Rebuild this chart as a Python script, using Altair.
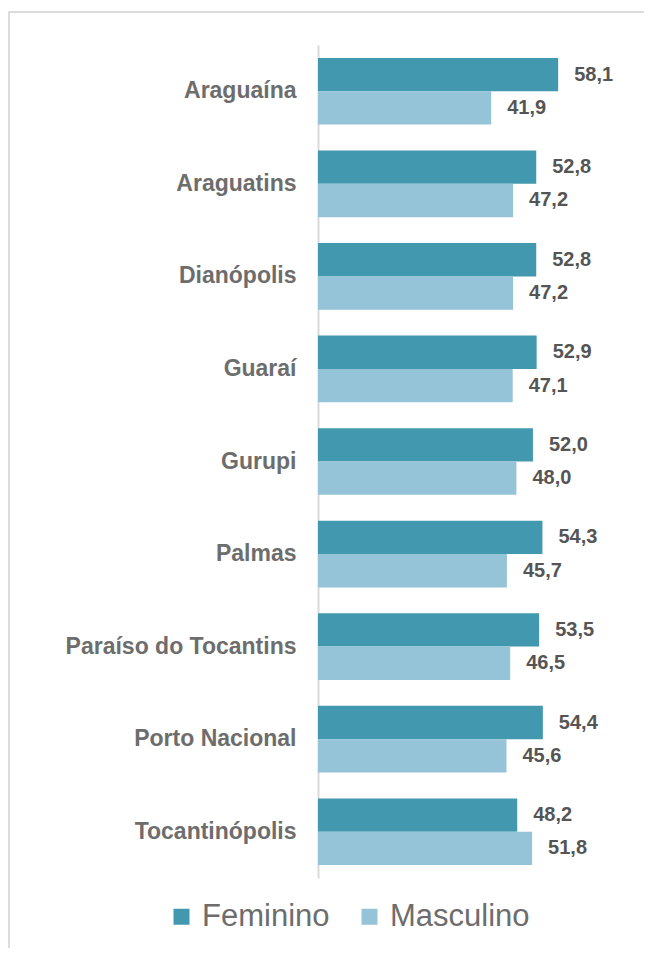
import altair as alt
import pandas as pd

cities = ["Araguaína", "Araguatins", "Dianópolis", "Guaraí", "Gurupi", "Palmas",
          "Paraíso do Tocantins", "Porto Nacional", "Tocantinópolis"]
feminino = [58.1, 52.8, 52.8, 52.9, 52.0, 54.3, 53.5, 54.4, 48.2]
masculino = [41.9, 47.2, 47.2, 47.1, 48.0, 45.7, 46.5, 45.6, 51.8]
series = ["Feminino", "Masculino"]
colors = ["#4298AF", "#95C3D7"]

rows = []
for c, f, m in zip(cities, feminino, masculino):
    rows.append({"city": c, "serie": "Feminino", "value": f, "label": f"{f:.1f}".replace(".", ",")})
    rows.append({"city": c, "serie": "Masculino", "value": m, "label": f"{m:.1f}".replace(".", ",")})
df = pd.DataFrame(rows)

y_enc = alt.Y("city:N", sort=cities, title=None,
              scale=alt.Scale(paddingInner=0.28, paddingOuter=0.14),
              axis=alt.Axis(domainColor="#d9d9d9", domainWidth=2, ticks=False,
                            labelPadding=22, labelFont="Liberation Sans",
                            labelFontWeight="bold", labelFontSize=23,
                            labelColor="#6d6d6d", labelLimit=400))
x_enc = alt.X("value:Q", scale=alt.Scale(domain=[0, 75]), axis=None)
yoff = alt.YOffset("serie:N", sort=series)

base = alt.Chart(df)
bars = base.mark_bar().encode(
    y=y_enc, x=x_enc, yOffset=yoff,
    color=alt.Color("serie:N", sort=series,
                    scale=alt.Scale(domain=series, range=colors),
                    legend=alt.Legend(title=None, orient="none", legendX=-152, legendY=856,
                                      direction="horizontal", symbolType="square",
                                      symbolSize=256, symbolStrokeWidth=0,
                                      labelFont="Liberation Sans", labelFontSize=31,
                                      labelColor="#6d6d6d", labelOffset=5,
                                      columnPadding=24, labelLimit=400)),
)
texts = base.mark_text(align="left", baseline="middle", dx=16,
                       font="Liberation Sans", fontWeight="bold", fontSize=20,
                       color="#555555").encode(
    y=y_enc, x=x_enc, yOffset=yoff, text="label:N",
)

frame_df = pd.DataFrame({"a": [0]})
top_line = alt.Chart(frame_df).mark_rule(color="#dcdcdc", strokeWidth=2).encode(
    x=alt.value(-310), x2=alt.value(334), y=alt.value(-33))
left_line = alt.Chart(frame_df).mark_rule(color="#dcdcdc", strokeWidth=2).encode(
    x=alt.value(-309), y=alt.value(-33), y2=alt.value(917))

chart = alt.layer(bars, texts, top_line, left_line).properties(
    width=310, height=833,
    autosize=alt.AutoSizeParams(type="none"),
    padding={"left": 310, "top": 37, "right": 16, "bottom": 70},
).configure_view(stroke=None)

chart.save("out.html", embed_options={"renderer": "svg", "actions": False})
